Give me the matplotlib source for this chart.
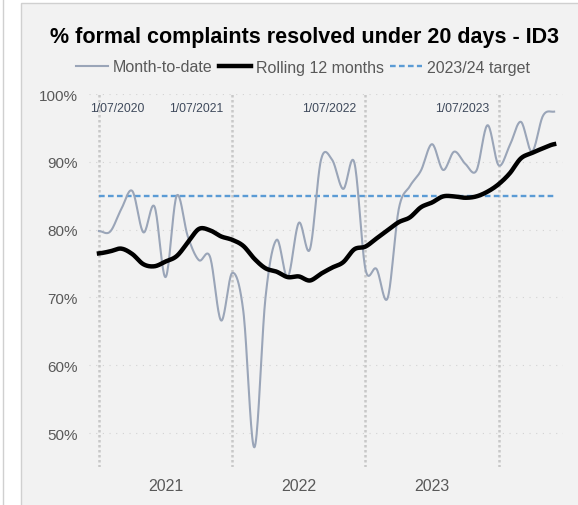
import numpy as np
import matplotlib
matplotlib.use("Agg")
import matplotlib.pyplot as plt
from matplotlib.patches import Rectangle
from matplotlib.lines import Line2D

plt.rcParams['font.family'] = ['Liberation Sans', 'DejaVu Sans']

# Months Jul 2020 .. Dec 2023 (index 0..41)
month_to_date = [79.8, 79.7, 83.0, 85.7, 79.6, 83.4, 73.0, 85.0, 79.0, 75.5, 76.0, 66.6,
                 73.6, 68.0, 47.9, 70.0, 78.5, 73.0, 81.0, 77.1, 90.3, 90.3, 86.0, 89.9,
                 74.2, 74.2, 69.9, 83.0, 86.4, 88.7, 92.6, 88.8, 91.5, 89.7, 88.7, 95.4,
                 89.5, 92.4, 95.9, 91.5, 96.8, 97.4]
rolling_12 = [76.5, 76.8, 77.2, 76.4, 74.9, 74.6, 75.3, 76.1, 78.1, 80.1, 79.9, 79.0,
              78.5, 77.6, 75.7, 74.3, 73.8, 73.0, 73.1, 72.5, 73.5, 74.4, 75.2, 77.1,
              77.5, 78.7, 79.9, 81.1, 81.8, 83.3, 84.0, 84.9, 84.9, 84.7, 84.9, 85.6,
              86.7, 88.3, 90.5, 91.3, 92.0, 92.6]
target = 85.0
fy_starts = [0, 12, 24, 36]
fy_labels = ['1/07/2020', '1/07/2021', '1/07/2022', '1/07/2023']
year_ticks = [6, 18, 30]
year_labels = ['2021', '2022', '2023']
y_ticks = [50, 60, 70, 80, 90, 100]


def smooth(y, n=20):
    """Catmull-Rom style smoothing for rendering (like Excel smoothed lines)."""
    y = np.asarray(y, float)
    x = np.arange(len(y), dtype=float)
    xs, ys = [], []
    for i in range(len(y) - 1):
        p0 = y[i - 1] if i > 0 else y[i]
        p1, p2 = y[i], y[i + 1]
        p3 = y[i + 2] if i + 2 < len(y) else y[i + 1]
        t = np.linspace(0, 1, n, endpoint=False)
        c1 = p1 + (p2 - p0) / 6
        c2 = p2 - (p3 - p1) / 6
        b = (1 - t) ** 3 * p1 + 3 * (1 - t) ** 2 * t * c1 + 3 * (1 - t) * t ** 2 * c2 + t ** 3 * p2
        xs.append(x[i] + t)
        ys.append(b)
    xs.append([x[-1]])
    ys.append([y[-1]])
    return np.concatenate(xs), np.concatenate(ys)


fig = plt.figure(figsize=(5.78, 5.06), dpi=100)
fig.patch.set_facecolor('white')
# chart area background / frame
fig.patches.append(Rectangle((21 / 578, -0.1), 1.2, 1 - 4 / 506 + 0.1, transform=fig.transFigure,
                             facecolor='#f2f2f2', edgecolor='#d0d0d0', linewidth=1.0, zorder=-10))
fig.lines.append(Line2D([3 / 578, 3 / 578], [0, 1], transform=fig.transFigure, color='#d0d0d0',
                        lw=1.0, zorder=-10))

ax = fig.add_axes([89 / 578, 1 - 468 / 506, (563 - 89) / 578, (468 - 95) / 506])
ax.set_zorder(5)
ax.set_facecolor('none')
ax.set_xlim(-0.9, 41.8)
ax.set_ylim(45.0, 100.0)

for v in y_ticks:
    ax.axhline(v, color='#d3d3d3', lw=0.8, linestyle=(0, (1, 5)), zorder=1)
for xs in fy_starts:
    ax.axvline(xs, color='#c8c8c8', lw=1.8, linestyle=(0, (1, 1.0)), zorder=1)

n = len(month_to_date)
xi = np.arange(n)
sx, sy = smooth(month_to_date)
ax.plot(sx, sy, color='#9aa5b8', lw=1.5, zorder=3, label='Month-to-date')
rx, ry = smooth(rolling_12)
ax.plot(rx, ry, color='black', lw=3.2, zorder=4, label='Rolling 12 months')
ax.plot([xi[0], xi[-1]], [target, target], color='#5b9bd5', lw=1.7, linestyle=(0, (2.4, 1.4)),
        zorder=2, label='2023/24 target')

for i, (xs, lab) in enumerate(zip(fy_starts, fy_labels)):
    if i == 0:
        ax.text(xs - 0.8, 98.0, lab, ha='left', va='center', fontsize=8.8, color='#3f4a5c')
    else:
        ax.text(xs - 0.8, 98.0, lab, ha='right', va='center', fontsize=8.8, color='#3f4a5c')

ax.set_yticks(y_ticks)
ax.set_yticklabels([f'{v}%' for v in y_ticks], fontsize=11, color='#595959')
ax.set_xticks(year_ticks)
ax.set_xticklabels(year_labels, fontsize=11.5, color='#595959')
ax.tick_params(length=0)
ax.tick_params(axis='y', pad=8)
ax.tick_params(axis='x', pad=8)
for s in ax.spines.values():
    s.set_visible(False)

fig.text(305 / 578, 1 - 37 / 506, '% formal complaints resolved under 20 days - ID3',
         ha='center', va='center', fontsize=15.5, fontweight='bold', color='black')

leg = fig.legend(loc='center', bbox_to_anchor=(303 / 578, 1 - 68 / 506), ncol=3, frameon=False,
                 fontsize=11.5, handlelength=2.0, handletextpad=0.3, columnspacing=0.4,
                 labelcolor='#595959', borderaxespad=0, borderpad=0)

fig.savefig('out.png', dpi=100, facecolor='white')
